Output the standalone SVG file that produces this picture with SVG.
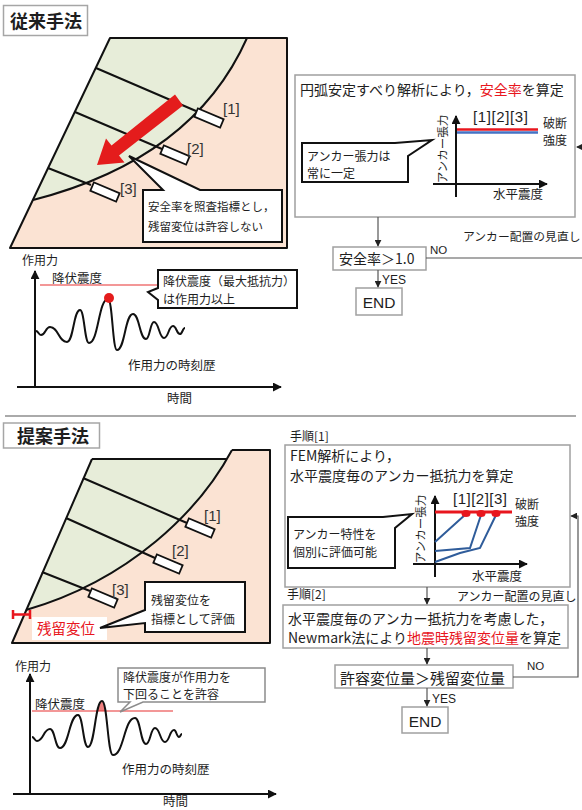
<svg xmlns="http://www.w3.org/2000/svg" width="582" height="810" viewBox="0 0 582 810">
<defs>
<style>
  text { font-family: "Noto Sans CJK JP", "Noto Sans", sans-serif; fill: #1e1e1e; }
  .lat { font-family: "Liberation Sans", Arial, sans-serif; }
  .red { fill: #e8161e; }
  .hdr { font-size: 18px; font-weight: bold; }
  .hbox { fill: #fff; stroke: #a6a6a6; stroke-width: 1.5; }
  .pink { fill: #fbe3d3; }
  .green { fill: #e7edd9; }
  .ln { fill: none; stroke: #111; stroke-width: 2; stroke-linejoin: round; }
  .anc { fill: #fff; stroke: #111; stroke-width: 1.8; }
  .call { fill: #fff; stroke: #111; stroke-width: 2; }
  .callg { fill: #fff; stroke: #8c8c8c; stroke-width: 1.5; }
  .fbox { fill: #fff; stroke: #a0a0a0; stroke-width: 1.5; }
  .flow { fill: none; stroke: #555; stroke-width: 1.2; }
  .axis { fill: none; stroke: #111; stroke-width: 2; }
  .wave { fill: none; stroke: #111; stroke-width: 2; }
  .yld { stroke: #e83030; stroke-width: 1.2; }
  .blue { fill: none; stroke: #2f5c9a; stroke-width: 2; }
  .s11 { font-size: 11.5px; }
  .s12 { font-size: 12px; }
  .s125 { font-size: 12.5px; }
  .s14 { font-size: 14px; }
  .lbl { font-family: "Liberation Sans", Arial, sans-serif; font-size: 15px; fill: #333; }
</style>
<marker id="axhead" viewBox="0 0 10 10" refX="9" refY="5" markerWidth="9" markerHeight="9" markerUnits="userSpaceOnUse" orient="auto">
  <path d="M0,0 L10,5 L0,10 Z" fill="#111"/>
</marker>
<marker id="flowhead" viewBox="0 0 10 10" refX="9" refY="5" markerWidth="7" markerHeight="7" markerUnits="userSpaceOnUse" orient="auto">
  <path d="M0,0 L10,5 L0,10 Z" fill="#222"/>
</marker>
<clipPath id="aboveYield">
  <rect x="0" y="600" width="300" height="111"/>
</clipPath>
</defs>

<rect width="582" height="810" fill="#fff"/>

<!-- ===== Conventional method ===== -->
<g id="hdr-conventional">
  <rect class="hbox" x="3.5" y="5.5" width="84" height="30"/>
  <text class="hdr" x="10" y="28">従来手法</text>
</g>

<g id="slope-conventional">
  <path class="pink" d="M110,38 L287,38 L287,248 L10,248 Z"/>
  <path class="green" d="M110,38 L247,38 C215,110 150,170 33,200 Z"/>
  <path class="ln" d="M110,38 L287,38 L287,248 L10,248 Z"/>
  <path class="ln" d="M247,38 C215,110 150,170 33,200"/>
  <path class="ln" d="M96,68 L196,111 M75,112 L162,149 M48,168 L91,185"/>
  <rect class="anc" x="-14" y="-4.5" width="28" height="9" transform="translate(209,118) rotate(23)"/>
  <rect class="anc" x="-14" y="-4.5" width="28" height="9" transform="translate(175,155) rotate(23)"/>
  <rect class="anc" x="-14" y="-4.5" width="28" height="9" transform="translate(105,192) rotate(23)"/>
  <text class="lbl" x="223" y="114">[1]</text>
  <text class="lbl" x="187" y="154">[2]</text>
  <text class="lbl" x="120" y="194">[3]</text>
  <!-- sliding direction -->
  <polygon fill="#e41c1c" points="175,94.5 183,105.5 119,155.5 124.5,162.5 97,165 106,138.5 111.5,145.5"/>
</g>

<g id="note-safety">
  <path class="call" d="M143,190 L163,190 L129,156 L200,190 L282,190 L282,242 L143,242 Z"/>
  <text class="s11" x="148" y="211">安全率を照査指標とし，</text>
  <text class="s11" x="148" y="231">残留変位は許容しない</text>
</g>

<g id="history-conventional">
  <text class="s12" x="22" y="265">作用力</text>
  <path class="axis" d="M35,388 L35,271" marker-end="url(#axhead)"/>
  <path class="axis" d="M17,387 L281,387" marker-end="url(#axhead)"/>
  <line class="yld" x1="40" y1="285" x2="160" y2="285"/>
  <text class="s125" x="52" y="283">降伏震度</text>
  <path class="wave" d="M36,331 C38.5,331 38.5,335 41,335 C45.5,335 45.5,327 50,327 C58.5,327 58.5,342 67,342 C73.5,342 73.5,310 80,310 C84.5,310 84.5,343 89,343 C98.5,343 98.5,299 108,299 C112.5,299 112.5,350 117,350 C125,350 125,314 133,314 C139.5,314 139.5,339 146,339 C150,339 150,322 154,322 C159,322 159,338 164,338 C168.5,338 168.5,326 173,326 C176.5,326 176.5,334 180,334 C182.5,334 182.5,328 185,328"/>
  <circle cx="109" cy="298" r="5" fill="#e41c1c"/>
  <text class="s125" x="128" y="370">作用力の時刻歴</text>
  <text class="s125" x="167" y="403">時間</text>
</g>

<g id="note-yield-max">
  <path class="call" d="M158,270 L297,270 L297,308 L158,308 L158,300 L148,292 L158,288 Z"/>
  <text class="s12" x="163" y="286">降伏震度（最大抵抗力）</text>
  <text class="s12" x="163" y="304">は作用力以上</text>
</g>

<g id="step-circular">
  <rect class="fbox" x="295" y="75" width="280" height="142"/>
  <text class="s14" x="300" y="95">円弧安定すべり解析により，<tspan class="red">安全率</tspan>を算定</text>
  <path class="axis" d="M456,197 L456,116" marker-end="url(#axhead)"/>
  <path class="axis" d="M433,184 L547,184" marker-end="url(#axhead)"/>
  <line x1="457" y1="129.5" x2="538" y2="129.5" stroke="#e8161e" stroke-width="2.5"/>
  <line x1="457" y1="132.5" x2="538" y2="132.5" stroke="#4472c4" stroke-width="2.5"/>
  <text class="lat" x="473" y="122" font-size="15" textLength="55" fill="#333">[1][2][3]</text>
  <text class="s12" x="543" y="128">破断</text>
  <text class="s12" x="543" y="145">強度</text>
  <text class="s11" text-anchor="middle" transform="translate(447,149) rotate(-90)">アンカー張力</text>
  <text class="s125" x="493" y="199">水平震度</text>
</g>

<g id="note-constant">
  <path class="call" d="M302,143 L395,143 L432,140 L408,156 L408,182 L302,182 Z"/>
  <text class="s12" x="307" y="161">アンカー張力は</text>
  <text class="s12" x="307" y="178">常に一定</text>
</g>

<g id="check-safety">
  <rect class="fbox" x="333" y="247" width="93" height="23"/>
  <text class="s14" x="339" y="264">安全率＞1.0</text>
</g>

<g id="end-conventional">
  <rect class="fbox" x="356" y="288" width="46" height="27"/>
  <text class="lat" x="379" y="308" font-size="15.5" text-anchor="middle">END</text>
</g>

<!-- divider -->
<line x1="5" y1="416" x2="576" y2="416" stroke="#aaa" stroke-width="2"/>

<!-- ===== Proposed method ===== -->
<g id="hdr-proposed">
  <rect class="hbox" x="3.5" y="423" width="96" height="25"/>
  <text class="hdr" x="17" y="443">提案手法</text>
</g>

<g id="slope-proposed">
  <path class="pink" d="M232,450 L270,450 L270,643 L12,643 L26,610 C130,580 200,510 232,450 Z"/>
  <path class="green" d="M92,459 L227,459 C197,515 128,582 26,610 Z"/>
  <path class="ln" d="M92,459 L12,643 L270,643 L270,450 L232,450"/>
  <path class="ln" d="M92,459 L227,459"/>
  <path class="ln" d="M232,450 C200,510 130,580 26,610"/>
  <path class="ln" d="M83,478 L187,523 M66,518 L155,558 M42,572 L90,591"/>
  <rect class="anc" x="-14" y="-4.5" width="28" height="9" transform="translate(200,528) rotate(23)"/>
  <rect class="anc" x="-14" y="-4.5" width="28" height="9" transform="translate(168,564) rotate(23)"/>
  <rect class="anc" x="-14" y="-4.5" width="28" height="9" transform="translate(103,598) rotate(23)"/>
  <text class="lbl" x="204" y="521">[1]</text>
  <text class="lbl" x="172" y="556">[2]</text>
  <text class="lbl" x="112" y="595">[3]</text>
  <path d="M13,610 V619 M30,610 V619 M13,614.5 H30" fill="none" stroke="#e8161e" stroke-width="2.5"/>
  <rect x="32" y="617" width="75" height="23" fill="#fff"/>
  <text class="red" x="37" y="634" font-size="14.5">残留変位</text>
</g>

<g id="note-residual">
  <path class="call" d="M145,582 L245,582 L245,632 L145,632 L145,623 L100,628 L145,610 Z"/>
  <text class="s12" x="151" y="605">残留変位を</text>
  <text class="s12" x="151" y="624">指標として評価</text>
</g>

<g id="history-proposed">
  <text class="s12" x="15" y="671">作用力</text>
  <path class="axis" d="M30,795 L30,674" marker-end="url(#axhead)"/>
  <path class="axis" d="M13,794 L276,794" marker-end="url(#axhead)"/>
  <path clip-path="url(#aboveYield)" fill="#ef8080" d="M32,737 C34.5,737 34.5,741 37,741 C43.5,741 43.5,729 50,729 C55,729 55,748 60,748 C69,748 69,715 78,715 C83,715 83,747 88,747 C95,747 95,701 102,701 C107.5,701 107.5,755 113,755 C124,755 124,718 135,718 C140.5,718 140.5,744 146,744 C150.5,744 150.5,728 155,728 C160,728 160,742 165,742 C169.5,742 169.5,730 174,730 C176.5,730 176.5,737 179,737 C180.5,737 180.5,734 182,734"/>
  <line class="yld" x1="32" y1="711" x2="173" y2="711"/>
  <text class="s125" x="35" y="709">降伏震度</text>
  <path class="wave" d="M32,737 C34.5,737 34.5,741 37,741 C43.5,741 43.5,729 50,729 C55,729 55,748 60,748 C69,748 69,715 78,715 C83,715 83,747 88,747 C95,747 95,701 102,701 C107.5,701 107.5,755 113,755 C124,755 124,718 135,718 C140.5,718 140.5,744 146,744 C150.5,744 150.5,728 155,728 C160,728 160,742 165,742 C169.5,742 169.5,730 174,730 C176.5,730 176.5,737 179,737 C180.5,737 180.5,734 182,734"/>
  <text class="s125" x="122" y="774">作用力の時刻歴</text>
  <text class="s125" x="163" y="806">時間</text>
</g>

<g id="note-yield-exceed">
  <path class="callg" d="M118,668 L265,668 L265,702 L143,702 L120,712 L130,702 L118,702 Z"/>
  <text class="s12" x="123" y="682">降伏震度が作用力を</text>
  <text class="s12" x="123" y="699">下回ることを許容</text>
</g>

<g id="step1-fem">
  <text class="s12" x="290" y="441">手順[1]</text>
  <rect class="fbox" x="285" y="445" width="285" height="142"/>
  <text class="s14" x="290" y="461">FEM解析により，</text>
  <text class="s14" x="290" y="481">水平震度毎のアンカー抵抗力を算定</text>
  <path class="axis" d="M435,577 L435,496" marker-end="url(#axhead)"/>
  <path class="axis" d="M413,564 L527,564" marker-end="url(#axhead)"/>
  <path class="blue" d="M435,542 L466,514 M435,551 L470,548 L481,515 M435,562 L460,553 L480,548 L496,515"/>
  <line x1="435" y1="512" x2="512" y2="512" stroke="#e8161e" stroke-width="3"/>
  <ellipse cx="466" cy="513.5" rx="4.5" ry="3.5" fill="#e8161e"/>
  <ellipse cx="481" cy="513.5" rx="4.5" ry="3.5" fill="#e8161e"/>
  <ellipse cx="496" cy="513.5" rx="4.5" ry="3.5" fill="#e8161e"/>
  <text class="lat" x="453" y="504" font-size="15" textLength="54" fill="#333">[1][2][3]</text>
  <text class="s12" x="515" y="509">破断</text>
  <text class="s12" x="515" y="526">強度</text>
  <text class="s11" text-anchor="middle" transform="translate(425,529) rotate(-90)">アンカー張力</text>
  <text class="s125" x="472" y="581">水平震度</text>
</g>

<g id="note-individual">
  <path class="call" d="M288,517 L383,517 L412,514 L395,528 L395,568 L288,568 Z"/>
  <text class="s12" x="293" y="539">アンカー特性を</text>
  <text class="s12" x="293" y="557">個別に評価可能</text>
</g>

<g id="step2-newmark">
  <text class="s12" x="287" y="599">手順[2]</text>
  <rect class="fbox" x="283" y="605" width="285" height="43"/>
  <text class="s14" x="288" y="624">水平震度毎のアンカー抵抗力を考慮した，</text>
  <text class="s14" x="288" y="643">Newmark法により<tspan class="red">地震時残留変位量</tspan>を算定</text>
</g>

<g id="check-displacement">
  <rect class="fbox" x="335" y="665" width="178" height="23"/>
  <text x="340" y="684" font-size="15">許容変位量＞残留変位量</text>
</g>

<g id="end-proposed">
  <rect class="fbox" x="402" y="707" width="46" height="26"/>
  <text class="lat" x="425" y="727" font-size="15.5" text-anchor="middle">END</text>
</g>

<!-- ===== Flow connectors ===== -->
<g id="connectors">
  <path class="flow" d="M378,217 L378,246" marker-end="url(#flowhead)"/>
  <path class="flow" d="M426,258 L582,258"/>
  <path class="flow" d="M582,147 L577,147"/>
  <path d="M576,147 L583,143.5 L583,150.5 Z" fill="#222"/>
  <path class="flow" d="M378,270 L378,287" marker-end="url(#flowhead)"/>

  <path class="flow" d="M427,587 L427,604" marker-end="url(#flowhead)"/>
  <path class="flow" d="M427,648 L427,664" marker-end="url(#flowhead)"/>
  <path class="flow" d="M427,688 L427,706" marker-end="url(#flowhead)"/>
  <path class="flow" d="M513,677 L578,677 L578,516 L571,516" marker-end="url(#flowhead)"/>

  <text class="lat" x="430" y="254" font-size="11.5">NO</text>
  <text class="lat" x="382" y="284" font-size="12">YES</text>
  <text x="463" y="241" font-size="11.8">アンカー配置の見直し</text>
  <text class="lat" x="527" y="670" font-size="11.5">NO</text>
  <text class="lat" x="432" y="703" font-size="12">YES</text>
  <text x="457" y="601" font-size="12">アンカー配置の見直し</text>
</g>
</svg>
